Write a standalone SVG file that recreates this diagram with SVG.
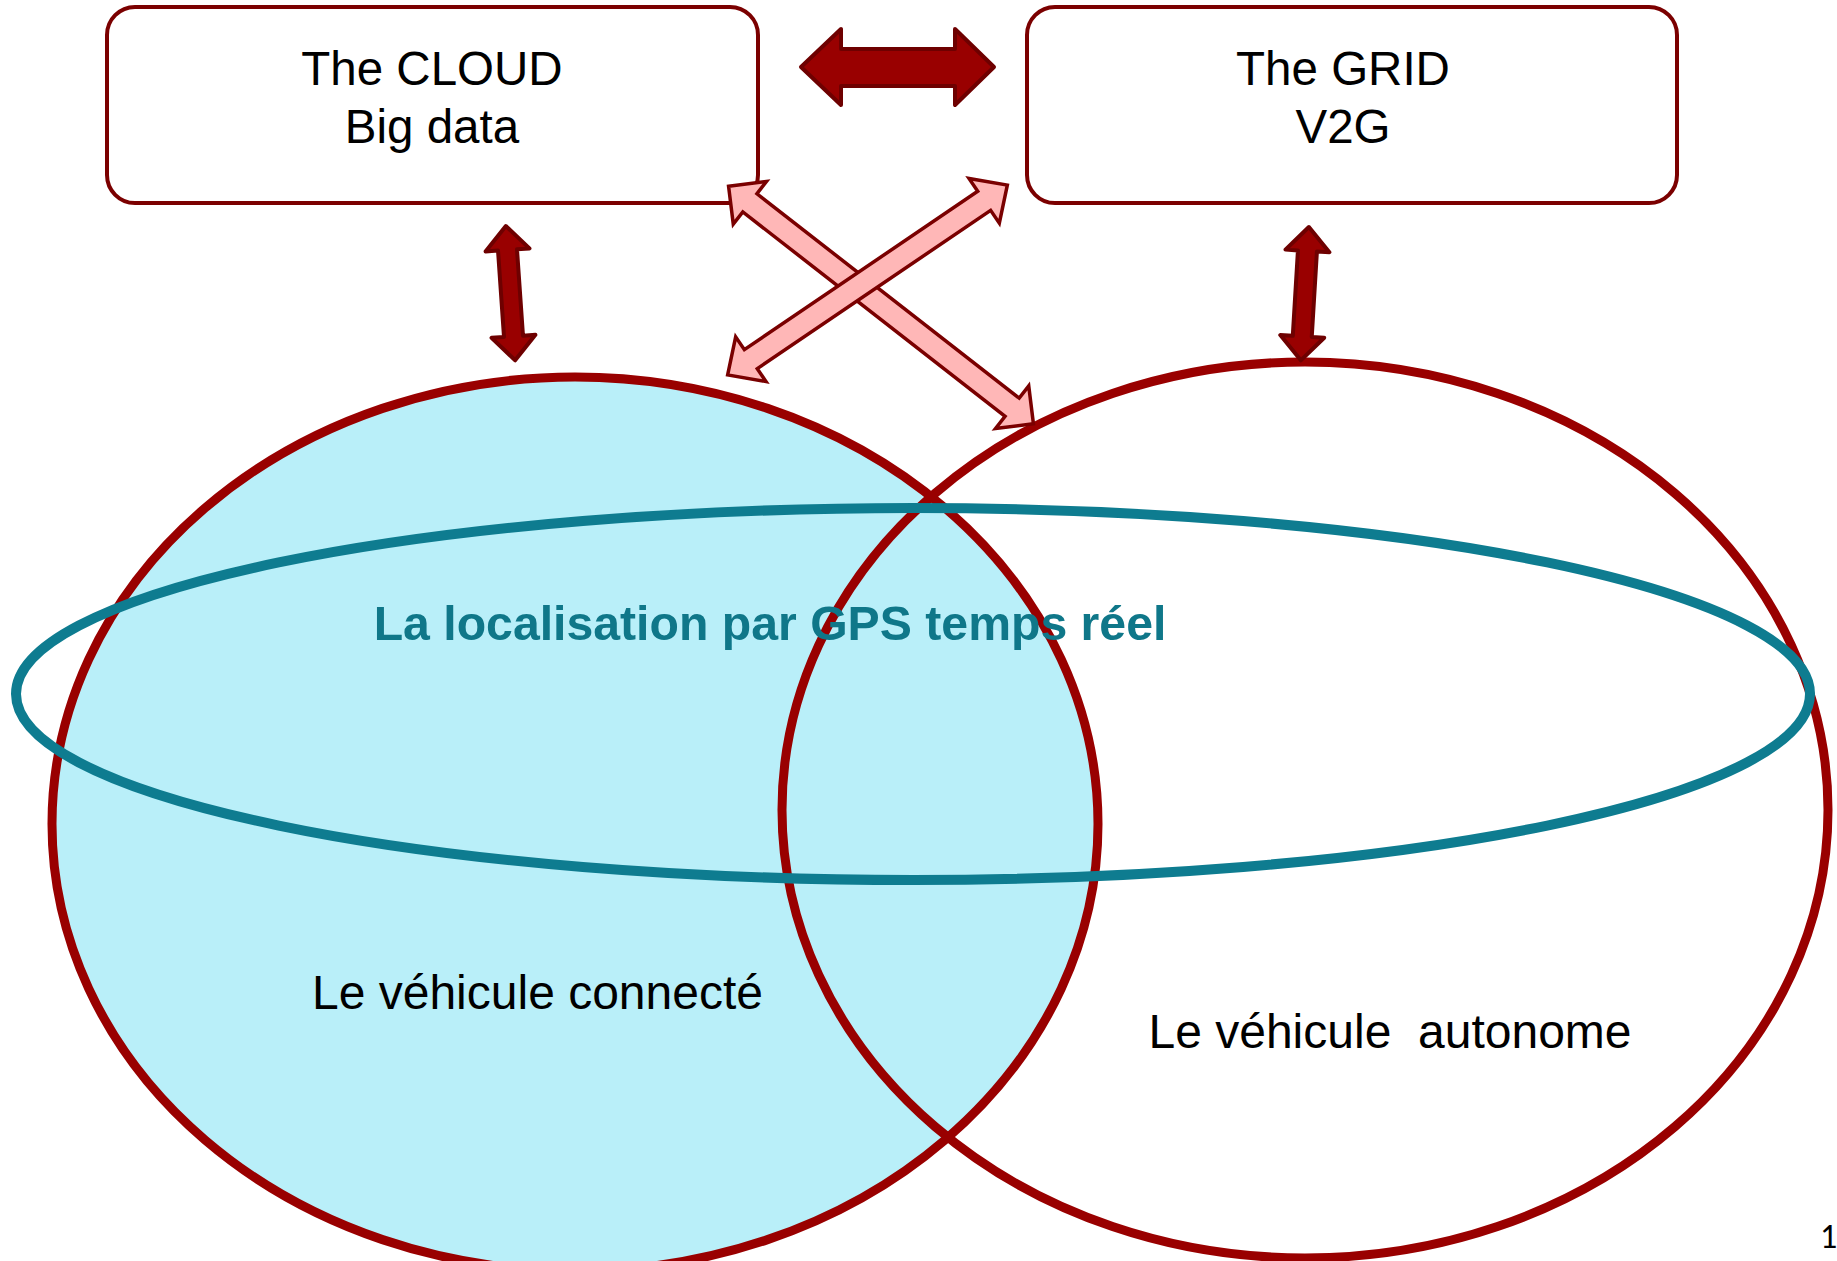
<svg xmlns="http://www.w3.org/2000/svg" width="1837" height="1261" viewBox="0 0 1837 1261">
<style>
.bg{fill:#ffffff}
.box{fill:#ffffff;stroke:#7b0000;stroke-width:4}
.set{stroke:#990000;stroke-width:9}
.lbl{font-family:"Liberation Sans",Arial,sans-serif;font-size:47.5px;fill:#000000;text-anchor:middle}
.big{font-size:48px}
.gps{font-family:"Liberation Sans",Arial,sans-serif;font-size:48.2px;font-weight:bold;fill:#0f7789;text-anchor:middle}
.dark{fill:#990000;stroke:#6e0000;stroke-width:4;stroke-linejoin:round}
.pink{fill:#ffb7b7;stroke:#7a0000;stroke-width:3.5;stroke-linejoin:miter}
</style>
<rect class="bg" x="0" y="0" width="1837" height="1261"/>
<g id="connecte">
<ellipse class="set" cx="575" cy="824" rx="523" ry="447" fill="#b9eff9"/>
<text class="lbl big" x="537.5" y="1009">Le véhicule connecté</text>
</g>
<g id="autonome">
<ellipse class="set" cx="1305" cy="810" rx="523" ry="448" fill="none"/>
<text class="lbl big" x="1390" y="1048" xml:space="preserve">Le véhicule  autonome</text>
</g>
<g id="gps">
<ellipse cx="913" cy="694" rx="897" ry="186" fill="none" stroke="#0e7c90" stroke-width="10"/>
<text class="gps" x="770" y="640">La localisation par GPS temps réel</text>
</g>
<g id="cloud">
<rect class="box" x="107" y="7" width="651" height="196" rx="28" ry="28"/>
<text class="lbl" x="432" y="85">The CLOUD</text>
<text class="lbl" x="432" y="143">Big data</text>
</g>
<g id="grid">
<rect class="box" x="1027" y="7" width="650" height="196" rx="28" ry="28"/>
<text class="lbl" x="1343" y="85">The GRID</text>
<text class="lbl" x="1343" y="143">V2G</text>
</g>
<g id="connectors">
<polygon class="dark" points="801,67 841,29 841,49 955,49 955,29 994,67 955,105 955,86 841,86 841,105"/>
<polygon class="dark" transform="translate(505.7,224) rotate(86.03)" points="2,0 26,-22 26,-9.5 112.6,-9.5 112.6,-22 136.6,0 112.6,22 112.6,9.5 26,9.5 26,22"/>
<polygon class="dark" transform="translate(1309,225) rotate(93.46)" points="2,0 26,-22 26,-9.5 111.6,-9.5 111.6,-22 135.6,0 111.6,22 111.6,9.5 26,9.5 26,22"/>
<polygon class="pink" transform="translate(727,185) rotate(37.93)" points="2,0 29,-27 29,-11.5 361.5,-11.5 361.5,-27 388.5,0 361.5,27 361.5,11.5 29,11.5 29,27"/>
<polygon class="pink" transform="translate(726,376) rotate(-34.16)" points="2,0 30,-27 30,-11.5 312,-11.5 312,-27 340,0 312,27 312,11.5 30,11.5 30,27"/>
</g>
<text x="1820" y="1248" font-family="Carlito,'Liberation Sans',sans-serif" font-size="34" fill="#000000">1</text>
</svg>
